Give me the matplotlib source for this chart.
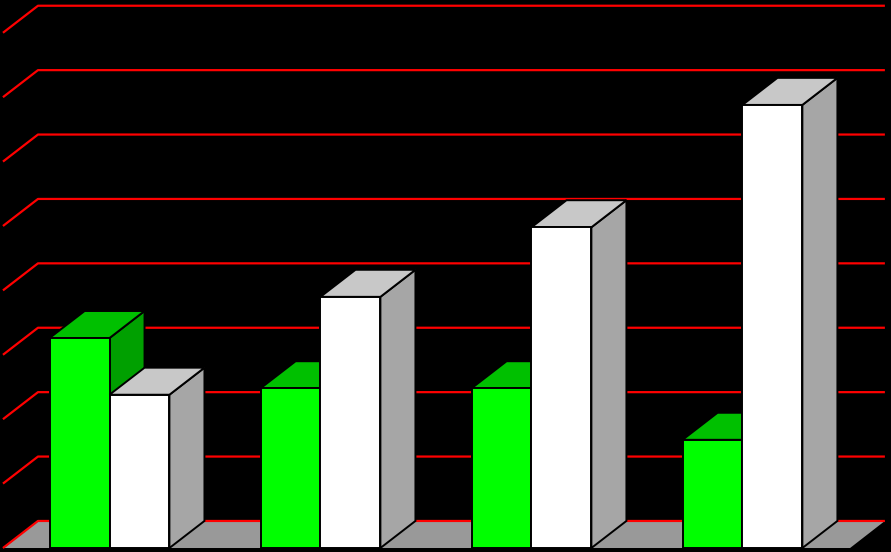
import matplotlib
matplotlib.use('Agg')
import matplotlib.pyplot as plt
from matplotlib.patches import Polygon
import numpy as np

# values (grid step = 1)
groups = [0, 1, 2, 3]
green_vals = [3.26, 2.48, 2.48, 1.68]
white_vals = [2.38, 3.90, 4.98, 6.88]
n_grid = 8

# 3d look
bar_w = 0.284
dx = 0.166     # depth shift along x (group units)
dv = 0.42      # depth shift along y (value units)

fig = plt.figure(figsize=(8.91, 5.52), dpi=100, facecolor='black')
ax = fig.add_axes([0, 0, 1, 1])
ax.set_facecolor('black')
ax.set_xlim(-0.519, 3.704)
ax.set_ylim(-0.062, 8.509)
ax.axis('off')

x_left = -0.505
x_right = 3.675

# floor
floor = Polygon([(x_left + 0.005, 0), (3.51, 0), (x_right, dv), (x_left + dx, dv)],
                closed=True, facecolor='#999999', edgecolor='none', zorder=1)
ax.add_patch(floor)

# grid lines on back wall + left wall
for k in range(n_grid + 1):
    ax.plot([x_left, x_left + dx, x_right], [k, k + dv, k + dv],
            color='#ff0000', lw=1.6, zorder=2, solid_capstyle='butt')


def box(x0, x1, v, front, top, side):
    kw = dict(closed=True, edgecolor='black', lw=1.4, zorder=3, joinstyle='miter')
    ax.add_patch(Polygon([(x1, 0), (x1 + dx, dv), (x1 + dx, v + dv), (x1, v)], facecolor=side, **kw))
    ax.add_patch(Polygon([(x0, v), (x1, v), (x1 + dx, v + dv), (x0 + dx, v + dv)], facecolor=top, **kw))
    ax.add_patch(Polygon([(x0, 0), (x1, 0), (x1, v), (x0, v)], facecolor=front, **kw))


for g, gv, wv in zip(groups, green_vals, white_vals):
    box(g - bar_w, g, gv, '#00ff00', '#00c000', '#00a000')
    box(g, g + bar_w, wv, '#ffffff', '#c8c8c8', '#a6a6a6')

fig.savefig('out.png', dpi=100, facecolor='black')
